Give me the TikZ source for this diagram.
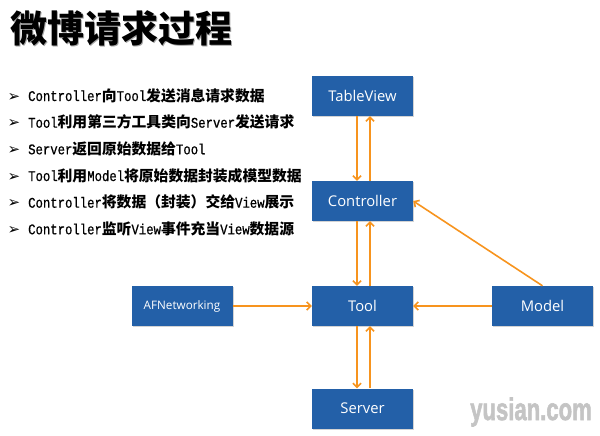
\documentclass[tikz,border=0pt]{standalone}
\usepackage{fontspec}
\setmainfont{Open Sans}
\newfontfamily\cjkfont{Noto Sans CJK SC}
\newfontfamily\listmono[FakeStretch=0.83,FakeBold=0.6]{Liberation Mono}
\newfontfamily\marksym{DejaVu Sans}
\newfontfamily\markfont[FakeBold=2,FakeStretch=0.85]{Liberation Sans}
\usetikzlibrary{arrows.meta,shadows}
\definecolor{boxblue}{HTML}{2360A8}
\definecolor{flowline}{HTML}{F7941E}
\definecolor{markgray}{HTML}{C4C4C4}
\newcommand{\hz}[1]{{\cjkfont\bfseries\fontsize{14.8}{16}\selectfont #1}}
\tikzset{
  flow box/.style={fill=boxblue,text=white,minimum width=101pt,minimum height=40pt,
    inner sep=0pt,font=\fontsize{14.8}{16}\selectfont,
    drop shadow={shadow xshift=1.2pt,shadow yshift=-1.2pt,opacity=.35}},
  flow arrow/.style={draw=flowline,line width=1.6pt,-{Straight Barb[length=4pt,width=8pt]}},
  list line/.style={anchor=base west,inner sep=0pt,font=\listmono\fontsize{14.8}{16}\selectfont},
  list mark/.style={anchor=base,inner sep=0pt,font=\marksym\fontsize{15}{16}\selectfont}
}

\begin{document}
\begin{tikzpicture}[x=1pt,y=-1pt]
  \useasboundingbox (0,0) rectangle (600,436);

  \node[anchor=west,inner sep=0pt,text=black!35,font=\cjkfont\bfseries\fontsize{37}{40}\selectfont]
    (titleshadow) at (11.5,29.5) {微博请求过程};
  \node[anchor=west,inner sep=0pt,font=\cjkfont\bfseries\fontsize{37}{40}\selectfont]
    (title) at (10,28) {微博请求过程};

  \foreach \y [count=\i] in {101,127.7,154.3,181,207.7,234.3}
    \node[list mark] (m\i) at (14,\y) {➢};
  \node[list line] (l1) at (28,101)   {Controller\hz{向}Tool\hz{发送消息请求数据}};
  \node[list line] (l2) at (28,127.7) {Tool\hz{利用第三方工具类向}Server\hz{发送请求}};
  \node[list line] (l3) at (28,154.3) {Server\hz{返回原始数据给}Tool};
  \node[list line] (l4) at (28,181)   {Tool\hz{利用}Model\hz{将原始数据封装成模型数据}};
  \node[list line] (l5) at (28,207.7) {Controller\hz{将数据（封装）交给}View\hz{展示}};
  \node[list line] (l6) at (28,234.3) {Controller\hz{监听}View\hz{事件充当}View\hz{数据源}};

  \node[flow box] (tv)    at (362.5,96)    {TableView};
  \node[flow box] (ctrl)  at (362.5,201)   {Controller};
  \node[flow box] (tool)  at (362.5,306)   {Tool};
  \node[flow box] (srv)   at (362.5,408.5) {Server};
  \node[flow box,font=\fontsize{11.7}{13}\selectfont] (afn) at (182,306) {AFNetworking};
  \node[flow box] (model) at (542.5,306)   {Model};

  \foreach \a/\b in {tv/ctrl,ctrl/tool,tool/srv} {
    \draw[flow arrow] ([xshift=-5.5pt]\a.south) -- ([xshift=-5.5pt]\b.north);
    \draw[flow arrow] ([xshift=7.5pt]\b.north) -- ([xshift=7.5pt]\a.south);
  }
  \draw[flow arrow] (afn) -- (tool);
  \draw[flow arrow] (model) -- (tool);
  \draw[flow arrow] (model.north) -- (ctrl.east);

  \node[text=markgray,inner sep=0pt,yscale=1.2,font=\markfont\bfseries\fontsize{26}{28}\selectfont]
    (mark) at (531,412) {yusian.com};
\end{tikzpicture}
\end{document}
